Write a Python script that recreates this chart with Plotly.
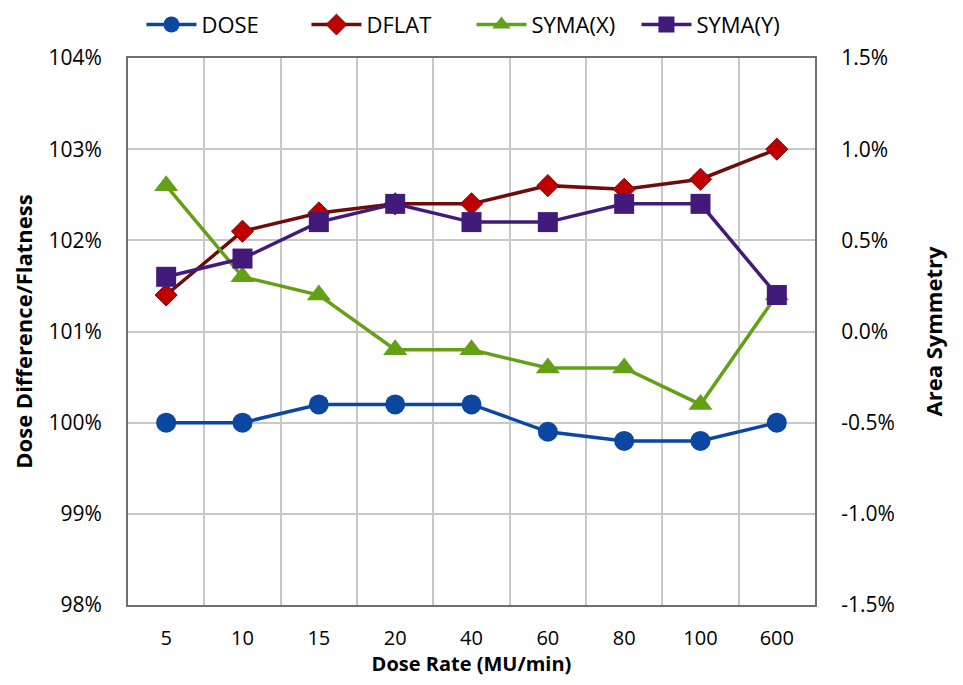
import plotly.graph_objects as go

rates = ["5", "10", "15", "20", "40", "60", "80", "100", "600"]
dose = [100.0, 100.0, 100.2, 100.2, 100.2, 99.9, 99.8, 99.8, 100.0]
dflat = [101.4, 102.1, 102.3, 102.4, 102.4, 102.6, 102.56, 102.67, 103.0]
syma_x = [0.8, 0.3, 0.2, -0.1, -0.1, -0.2, -0.2, -0.4, 0.2]
syma_y = [0.3, 0.4, 0.6, 0.7, 0.6, 0.6, 0.7, 0.7, 0.2]

left_ticks = [98, 99, 100, 101, 102, 103, 104]
left_labels = ["98%", "99%", "100%", "101%", "102%", "103%", "104%"]
right_ticks = [-1.5, -1.0, -0.5, 0.0, 0.5, 1.0, 1.5]
right_labels = ["-1.5%", "-1.0%", "-0.5%", "0.0%", "0.5%", "1.0%", "1.5%"]

FONT = "Open Sans"
fig = go.Figure()
fig.add_trace(go.Scatter(x=rates, y=dose, name="DOSE", mode="lines+markers",
                         line=dict(color="#0B47A1", width=3.5),
                         marker=dict(symbol="circle", size=20, color="#0B47A1")))
fig.add_trace(go.Scatter(x=rates, y=dflat, name="DFLAT", mode="lines+markers",
                         line=dict(color="#6E0B0B", width=3.5),
                         marker=dict(symbol="diamond", size=17, color="#C00000",
                                     line=dict(color="#6E0B0B", width=1))))
fig.add_trace(go.Scatter(x=rates, y=syma_x, name="SYMA(X)", mode="lines+markers", yaxis="y2",
                         line=dict(color="#64A015", width=3.5),
                         marker=dict(symbol="triangle-up", size=21, color="#64A015")))
fig.add_trace(go.Scatter(x=rates, y=syma_y, name="SYMA(Y)", mode="lines+markers", yaxis="y2",
                         line=dict(color="#421A7A", width=3.5),
                         marker=dict(symbol="square", size=20, color="#421A7A")))

fig.update_layout(
    width=947, height=669,
    margin=dict(l=120, r=140, t=50, b=72, autoexpand=False),
    paper_bgcolor="white", plot_bgcolor="white",
    font=dict(family=FONT, size=21, color="black"),
    legend=dict(orientation="h", xref="container", yref="container",
                x=0.4894, xanchor="center", y=0.975, yanchor="middle",
                bgcolor="rgba(0,0,0,0)", font=dict(size=22), traceorder="normal",
                itemwidth=50, entrywidth=100, entrywidthmode="pixels"),
    xaxis=dict(type="category", tickson="boundaries", range=[-0.5, 8.5], automargin=False,
               showgrid=True, gridcolor="#C8C8C8",
               gridwidth=2, showline=True, linecolor="#707070", linewidth=2, mirror=True,
               ticks="", ticklabelstandoff=14, tickfont=dict(size=20),
               title=dict(text="<b>Dose Rate (MU/min)</b>", font=dict(size=20), standoff=8)),
    yaxis=dict(range=[98, 104], tickvals=left_ticks, ticktext=left_labels, automargin=False,
               showgrid=True, gridcolor="#C8C8C8", gridwidth=2, zeroline=False,
               showline=True, linecolor="#707070", linewidth=2, ticks="",
               ticklabelstandoff=20, tickfont=dict(size=21),
               title=dict(text="<b>Dose Difference/Flatness</b>", font=dict(size=22), standoff=17)),
    yaxis2=dict(range=[-1.5, 1.5], tickvals=right_ticks, ticktext=right_labels, automargin=False,
                overlaying="y", side="right", showgrid=False, zeroline=False,
                showline=True, linecolor="#707070", linewidth=2, ticks="",
                ticklabelstandoff=20, tickfont=dict(size=21),
                title=dict(text="<b>Area Symmetry</b>", font=dict(size=22), standoff=33)),
)
fig.write_html("out.html")
